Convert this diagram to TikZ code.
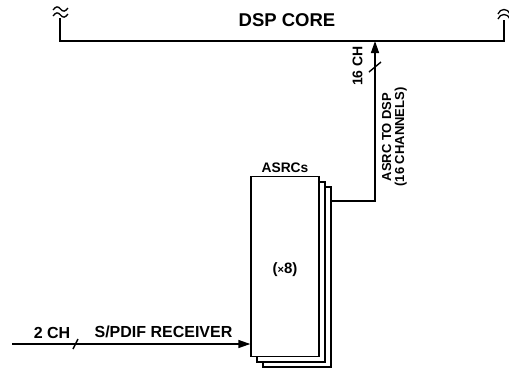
\documentclass[tikz,border=0pt]{standalone}
\usepackage{fontspec}
\setmainfont{Liberation Sans}
\usetikzlibrary{arrows.meta}
\begin{document}
\begin{tikzpicture}[x=1pt,y=-1pt,
  lbl/.style={font=\bfseries\fontsize{#1}{#1}\selectfont, inner sep=0pt},
  lbl/.default=14,
  asrcbox/.style={draw=black, line width=1.4pt, fill=white, minimum width=68pt, minimum height=180pt, inner sep=0pt},
  conn/.style={line width=1.4pt},
  arr/.style={conn, -{Triangle[length=12pt,width=8pt]}},
  busline/.style={line width=2.6pt},
  brk/.style={line width=1.3pt},
  tick/.style={line width=1.4pt}]
\useasboundingbox (0,0) rectangle (509,368);
% DSP core bus
\coordinate (ltop) at (60,18);
\coordinate (lbot) at (60,41);
\coordinate (rbot) at (504,41);
\coordinate (rtop) at (504,20);
\draw[busline] (ltop) -- (lbot) -- (rbot) -- (rtop);
% break marks left
\draw[brk] (53,10) .. controls (56,6) and (58,6) .. (60.5,9) .. controls (63,12) and (65,12) .. (68,8);
\draw[brk] (53,16) .. controls (56,12) and (58,12) .. (60.5,15) .. controls (63,18) and (65,18) .. (68,14);
% break marks right
\draw[brk] (498,14) .. controls (500,8) and (508,8) .. (510,14);
\draw[brk] (498,19) .. controls (500,13) and (508,13) .. (510,19);
\node[lbl=18.5] (dsp) at (287,20) {DSP CORE};
% ASRC boxes
\node[asrcbox] (b3) at (297,277) {};
\node[asrcbox] (b2) at (291,272) {};
\node[asrcbox] (b1) at (285,266.5) {};
\node[lbl=13.8, anchor=south] (asrcl) at (285,173) {ASRCs};
\node[lbl=15] (x8) at (285,270) {({\fontsize{11}{11}\selectfont ×}8)};
% input
\coordinate (in) at (12,344);
\draw[arr] (in) -- (in -| b1.west);
\draw[tick] (73,349) -- (78,339);
\node[lbl=16] (ch2) at (52,333) {2 CH};
\node[lbl=16] (spdif) at (163.5,332) {S/PDIF RECEIVER};
% output
\coordinate (corner) at (375,201);
\coordinate (dspin) at (375,41);
\draw[arr] (b3.east |- corner) -- (corner) -- (dspin);
\draw[tick] (369,72) -- (381,62);
\node[lbl=14, rotate=90] (ch16) at (357.5,66) {16 CH};
\node[lbl=13, rotate=90, align=center] (todsp) at (394.5,137) {ASRC TO DSP\\[0pt](16 CHANNELS)};
\end{tikzpicture}
\end{document}
